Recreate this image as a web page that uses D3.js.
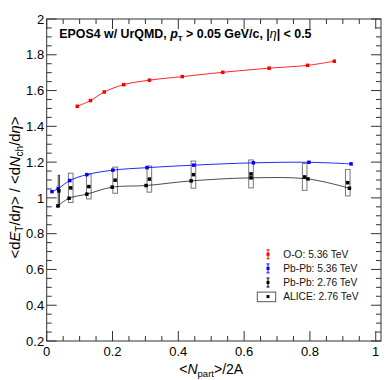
<!DOCTYPE html>
<html>
<head>
<meta charset="utf-8">
<script src="https://cdn.jsdelivr.net/npm/d3@7"></script>
<style>
  body { margin: 0; background: #fff; }
  text { font-family: "Liberation Sans", Arial, Helvetica, sans-serif; }
</style>
</head>
<body>
<script>
// data
const ooX = [0.093, 0.133, 0.175, 0.234, 0.312, 0.412, 0.535, 0.676, 0.793, 0.874];
const ooY = [1.512, 1.544, 1.592, 1.633, 1.658, 1.678, 1.702, 1.725, 1.741, 1.764];

const pb536X = [0.016, 0.035, 0.070, 0.122, 0.201, 0.305, 0.447, 0.628, 0.797, 0.925];
const pb536Y = [1.035, 1.052, 1.097, 1.130, 1.155, 1.169, 1.183, 1.196, 1.199, 1.190];

const pb276X = [0.034, 0.068, 0.122, 0.199, 0.302, 0.439, 0.621, 0.794, 0.920];
const pb276Y = [0.955, 0.998, 1.021, 1.060, 1.069, 1.095, 1.112, 1.106, 1.054];

const aliceX = [0.037, 0.073, 0.128, 0.208, 0.312, 0.446, 0.621, 0.784, 0.915];
const aliceY = [1.039, 1.056, 1.063, 1.099, 1.105, 1.130, 1.134, 1.117, 1.085];
const aliceSys = [0.087, 0.082, 0.069, 0.073, 0.073, 0.076, 0.078, 0.075, 0.074];
const aliceXerr = [0.002, 0.007, 0.007, 0.007, 0.007, 0.007, 0.007, 0.007, 0.007];

const xTicks = [0, 0.2, 0.4, 0.6, 0.8, 1];
const yTicks = [0.2, 0.4, 0.6, 0.8, 1, 1.2, 1.4, 1.6, 1.8, 2];

const legendLabels = ["O-O: 5.36 TeV", "Pb-Pb: 5.36 TeV", "Pb-Pb: 2.76 TeV", "ALICE: 2.76 TeV"];
const legendColors = ["#ff0000", "#0000ff", "#000000", "#000000"];

// set the dimensions and margins of the graph
var margin = {top: 19, right: 8, bottom: 39, left: 46.7},
    width = 389 - margin.left - margin.right,
    height = 380 - margin.top - margin.bottom;

var svg = d3.select("body").append("svg")
    .attr("width", 389)
    .attr("height", 380)
    .append("g")
    .attr("transform", "translate(" + margin.left + "," + margin.top + ")");

var x = d3.scaleLinear().domain([0, 1.016]).range([0, width]);
var y = d3.scaleLinear().domain([0.2, 2]).range([height, 0]);

var zip = (xs, ys) => xs.map((v, i) => ({x: v, y: ys[i], i: i}));

// ALICE systematic boxes
svg.append("g")
    .selectAll("rect")
    .data(zip(aliceX, aliceY))
    .enter().append("rect")
    .attr("x", d => x(d.x - aliceXerr[d.i]))
    .attr("width", d => x(d.x + aliceXerr[d.i]) - x(d.x - aliceXerr[d.i]))
    .attr("y", d => y(d.y + aliceSys[d.i]))
    .attr("height", d => y(d.y - aliceSys[d.i]) - y(d.y + aliceSys[d.i]))
    .attr("fill", "none")
    .attr("stroke", d => d.i === 0 ? "#444" : "#777")
    .attr("stroke-width", 1);

var line = d3.line()
    .x(d => x(d.x))
    .y(d => y(d.y))
    .curve(d3.curveCatmullRom);

var series = [
  {data: zip(ooX, ooY), color: "#ff0000"},
  {data: zip(pb536X, pb536Y), color: "#0000ff"},
  {data: zip(pb276X, pb276Y), color: "#000000"}
];

series.forEach(function(s) {
  svg.append("path")
      .datum(s.data)
      .attr("d", line)
      .attr("fill", "none")
      .attr("stroke", s.color)
      .attr("stroke-opacity", s.color === "#000000" ? 0.7 : 0.85)
      .attr("stroke-width", 1);
  svg.append("g")
      .selectAll("rect")
      .data(s.data)
      .enter().append("rect")
      .attr("x", d => x(d.x) - 1.75)
      .attr("y", d => y(d.y) - 1.75)
      .attr("width", 3.5)
      .attr("height", 3.5)
      .attr("fill", s.color);
});

// ALICE points
svg.append("g")
    .selectAll("rect")
    .data(zip(aliceX, aliceY))
    .enter().append("rect")
    .attr("x", d => x(d.x) - 1.75)
    .attr("y", d => y(d.y) - 1.75)
    .attr("width", 3.5)
    .attr("height", 3.5)
    .attr("fill", "#000");

// axes: ticks inward on all four sides
var axisColor = "#333";
function ticksBetween(lo, hi, step) {
  var out = [];
  for (var v = lo; v <= hi + 1e-9; v += step) out.push(+v.toFixed(3));
  return out;
}
var xMinor = ticksBetween(0, 1, 0.05);
var yMinor = ticksBetween(0.2, 2, 0.05);

var frame = svg.append("g").attr("stroke", axisColor).attr("stroke-width", 1);
frame.append("rect")
    .attr("x", 0).attr("y", 0).attr("width", width).attr("height", height)
    .attr("fill", "none");

xMinor.forEach(function(v) {
  var major = xTicks.some(t => Math.abs(t - v) < 1e-6);
  var len = major ? 10 : 5;
  frame.append("line").attr("x1", x(v)).attr("x2", x(v)).attr("y1", height).attr("y2", height - len);
  frame.append("line").attr("x1", x(v)).attr("x2", x(v)).attr("y1", 0).attr("y2", len);
});
yMinor.forEach(function(v) {
  var major = yTicks.some(t => Math.abs(t - v) < 1e-6);
  var len = major ? 10 : 5;
  frame.append("line").attr("y1", y(v)).attr("y2", y(v)).attr("x1", 0).attr("x2", len);
  frame.append("line").attr("y1", y(v)).attr("y2", y(v)).attr("x1", width).attr("x2", width - len);
});

svg.append("g")
    .selectAll("text")
    .data(xTicks)
    .enter().append("text")
    .attr("x", d => x(d))
    .attr("y", height + 15)
    .attr("text-anchor", "middle")
    .attr("font-size", "13px")
    .attr("fill", "#000")
    .text(d => d3.format("~g")(d));

svg.append("g")
    .selectAll("text")
    .data(yTicks)
    .enter().append("text")
    .attr("x", -2.5)
    .attr("y", d => y(d))
    .attr("dy", "0.36em")
    .attr("text-anchor", "end")
    .attr("font-size", "13px")
    .attr("fill", "#000")
    .text(d => d3.format("~g")(d));

// x axis title
var xt = svg.append("text")
    .attr("x", x(0.5))
    .attr("y", height + 33)
    .attr("text-anchor", "middle")
    .attr("font-size", "14px");
xt.append("tspan").text("<");
xt.append("tspan").attr("font-style", "italic").text("N");
xt.append("tspan").attr("font-size", "9.5px").attr("dy", 3).text("part");
xt.append("tspan").attr("dy", -3).text(">/2A");

// y axis title
var yt = svg.append("text")
    .attr("transform", "translate(" + (-27) + "," + (187.5 - margin.top) + ") rotate(-90)")
    .attr("text-anchor", "middle")
    .attr("font-size", "14.8px");
yt.append("tspan").text("<d");
yt.append("tspan").attr("font-style", "italic").text("E");
yt.append("tspan").attr("font-size", "10px").attr("dy", 3).text("T");
yt.append("tspan").attr("dy", -3).text("/d");
yt.append("tspan").attr("font-style", "italic").text("η");
yt.append("tspan").text("> / <d");
yt.append("tspan").attr("font-style", "italic").text("N");
yt.append("tspan").attr("font-size", "10px").attr("dy", 3).text("ch");
yt.append("tspan").attr("dy", -3).text("/d");
yt.append("tspan").attr("font-style", "italic").text("η");
yt.append("tspan").text(">");

// title
var tt = svg.append("text")
    .attr("x", 12.6)
    .attr("y", 18.7)
    .attr("font-size", "12.4px")
    .attr("font-weight", "bold");
tt.append("tspan").text("EPOS4 w/ UrQMD, ");
tt.append("tspan").attr("font-style", "italic").text("p");
tt.append("tspan").attr("font-size", "8px").attr("dy", 3).text("T");
tt.append("tspan").attr("dy", -3).text(" > 0.05 GeV/c, |");
tt.append("tspan").attr("font-style", "italic").attr("font-weight", "normal").text("η");
tt.append("tspan").text("| < 0.5");

// legend
var legend = svg.append("g")
    .selectAll("g")
    .data(legendLabels)
    .enter().append("g")
    .attr("transform", (d, i) => "translate(" + (268 - margin.left) + "," + (254.3 - margin.top + i * 14.1) + ")");

legend.each(function(d, i) {
  var g = d3.select(this);
  if (i < 3) {
    g.append("line").attr("x1", 0).attr("x2", 0).attr("y1", -4.5).attr("y2", 4.5)
        .attr("stroke", legendColors[i]).attr("stroke-width", 1);
    g.append("line").attr("x1", -1.5).attr("x2", 1.5).attr("y1", -4.5).attr("y2", -4.5)
        .attr("stroke", legendColors[i]);
    g.append("line").attr("x1", -1.5).attr("x2", 1.5).attr("y1", 4.5).attr("y2", 4.5)
        .attr("stroke", legendColors[i]);
  } else {
    g.append("rect").attr("x", -10.7).attr("y", -4.5).attr("width", 18.4).attr("height", 9.6)
        .attr("fill", "none").attr("stroke", "#555").attr("stroke-width", 1);
  }
  g.append("rect").attr("x", -1.5).attr("y", -1.5).attr("width", 3).attr("height", 3)
      .attr("fill", legendColors[i]);
  g.append("text")
      .attr("x", 15.3)
      .attr("dy", "0.35em")
      .attr("font-size", "10.2px")
      .attr("fill", "#111")
      .text(d);
});
</script>
</body>
</html>
